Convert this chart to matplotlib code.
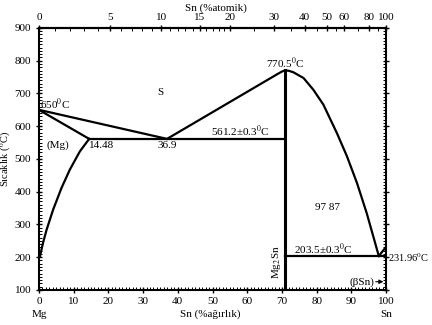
import numpy as np
import matplotlib
matplotlib.use('Agg')
import matplotlib.pyplot as plt
from matplotlib.ticker import MultipleLocator, FixedLocator

plt.rcParams['font.family'] = ['Liberation Serif', 'DejaVu Serif']
plt.rcParams['mathtext.fontset'] = 'stix'

# phase boundaries, wt% Sn vs temperature (C)
solidus_wt = [0, 14.48]
solidus_T = [650, 561.2]
liq_mg_wt = [0, 36.9]
liq_mg_T = [650, 561.2]
solvus_wt = [14.48, 11.8, 8.9, 6.5, 4.1, 2.2, 1.2, 0.3]
solvus_T = [561.2, 523, 467, 411, 345, 283, 244, 202]
liq_mid_wt = [36.9, 68.5, 70.0, 70.9, 72.0, 73.3, 76.2, 79.0, 81.9, 85.8, 88.7, 91.6, 94.4, 97.87]
liq_mid_T = [561.2, 758, 767, 770.5, 769, 764.5, 747, 711.6, 666, 579, 508, 426, 334, 203.5]
liq_sn_wt = [97.87, 100]
liq_sn_T = [203.5, 231.96]
eut1_wt = [14.48, 70.9]
eut1_T = 561.2
eut2_wt = [70.9, 100]
eut2_T = 203.5
mg2sn_wt = 70.9
mg2sn_T = [100, 770.5]

top_ticks = [0, 5, 10, 15, 20, 30, 40, 50, 60, 80, 100]
top_minor = list(range(0, 21)) + [25, 35, 45, 55, 70, 90]

M_SN = 118.71
M_MG = 24.305


def wt2at(w):
    w = np.asarray(w, dtype=float)
    a = w / M_SN
    b = (100 - w) / M_MG
    return 100 * a / (a + b)


def at2wt(x):
    x = np.asarray(x, dtype=float)
    a = x * M_SN
    b = (100 - x) * M_MG
    return 100 * a / (a + b)


fig = plt.figure(figsize=(4.32, 3.25), dpi=100)
ax = fig.add_axes([0.090, 0.108, 0.804, 0.806])

lw = 1.6
ax.plot(solidus_wt, solidus_T, 'k-', lw=lw)
ax.plot(liq_mg_wt, liq_mg_T, 'k-', lw=lw)
ax.plot(solvus_wt, solvus_T, 'k-', lw=lw)
ax.plot(liq_mid_wt, liq_mid_T, 'k-', lw=lw)
ax.plot(liq_sn_wt, liq_sn_T, 'k-', lw=lw)
ax.plot(eut1_wt, [eut1_T, eut1_T], 'k-', lw=lw)
ax.plot(eut2_wt, [eut2_T, eut2_T], 'k-', lw=lw)
ax.plot([mg2sn_wt, mg2sn_wt], mg2sn_T, 'k-', lw=2.2)

ax.set_xlim(0, 100)
ax.set_ylim(100, 900)
for s in ax.spines.values():
    s.set_linewidth(1.5)

ax.xaxis.set_major_locator(MultipleLocator(10))
ax.xaxis.set_minor_locator(MultipleLocator(1))
ax.yaxis.set_major_locator(MultipleLocator(100))
ax.yaxis.set_minor_locator(MultipleLocator(10))
ax.tick_params(which='major', direction='inout', length=4, width=1, labelsize=8, right=True)
ax.tick_params(which='minor', direction='in', length=2, width=0.7, right=True)
ax.tick_params(axis='x', pad=3)

sec = ax.secondary_xaxis('top', functions=(wt2at, at2wt))
sec.xaxis.set_major_locator(FixedLocator(top_ticks))
sec.xaxis.set_minor_locator(FixedLocator(top_minor))
sec.tick_params(which='major', direction='inout', length=4, width=1, labelsize=8, pad=2)
sec.tick_params(which='minor', direction='in', length=2, width=0.7)
sec.spines['top'].set_linewidth(1.5)

ax.set_ylabel('Sıcaklık ($^0$C)', fontsize=7.5, labelpad=1)
fig.text(0.50, 0.975, 'Sn (%atomik)', ha='center', va='center', fontsize=8)
fig.text(0.486, 0.032, 'Sn (%ağırlık)', ha='center', va='center', fontsize=8)
fig.text(0.092, 0.032, 'Mg', ha='center', va='center', fontsize=8)
fig.text(0.894, 0.032, 'Sn', ha='center', va='center', fontsize=8)

fs = 8
ax.text(0.3, 665, '650$^0$C', fontsize=fs, ha='left', va='center')
ax.text(35, 702, 'S', fontsize=fs, ha='center', va='center')
ax.text(71, 793, '770.5$^0$C', fontsize=fs, ha='center', va='center')
ax.text(5.5, 543, '(Mg)', fontsize=fs, ha='center', va='center')
ax.text(18, 541, '14.48', fontsize=fs, ha='center', va='center')
ax.text(36.8, 541, '36.9', fontsize=fs, ha='center', va='center')
ax.text(58, 584, '561.2±0.3$^0$C', fontsize=fs, ha='center', va='center')
ax.text(83, 351, '97 87', fontsize=fs, ha='center', va='center')
ax.text(82, 225, '203.5±0.3$^0$C', fontsize=fs, ha='center', va='center')
ax.text(100.6, 198, '231.96$^0$C', fontsize=7.5, ha='left', va='center', clip_on=False)
ax.text(68.3, 185, 'Mg$_2$Sn', fontsize=fs, ha='center', va='center', rotation=90)
ax.text(93, 125, '(βSn)', fontsize=fs, ha='center', va='center')
ax.annotate('', xy=(100, 125), xytext=(96.2, 125),
            arrowprops=dict(arrowstyle='-|>', lw=0.8, color='k', mutation_scale=6))

fig.savefig('out.png', dpi=100)
